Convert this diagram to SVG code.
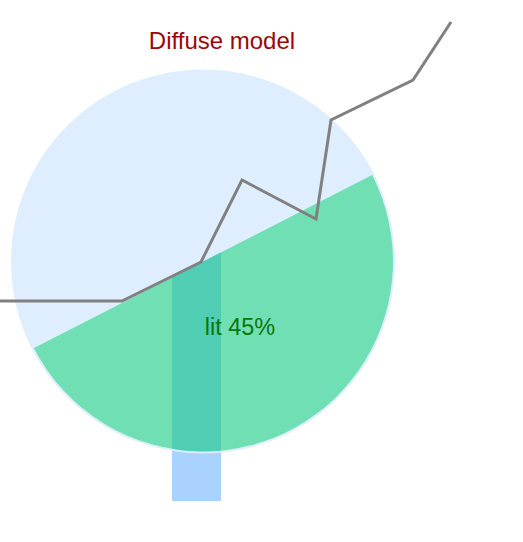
<svg xmlns="http://www.w3.org/2000/svg" width="523" height="542" viewBox="0 0 523 542">
  <style>
    .lbl { font-family: "Liberation Sans", Arial, sans-serif; text-anchor: middle; }
  </style>
  <rect width="523" height="542" fill="#ffffff"/>
  <g id="beam">
    <rect x="172" y="248" width="49" height="253" fill="#aad2ff"/>
  </g>
  <g id="sphere">
    <circle cx="203" cy="261.5" r="191" fill="none" stroke="#dfeefe" stroke-width="2"/>
    <path d="M32.4,348.6 A191.5,191.5 0 0 1 203,70 A191.5,191.5 0 0 1 373.6,174.4 Z" fill="#dfeefe"/>
    <path d="M372.2,175.1 A190,190 0 0 1 203,451.5 A190,190 0 0 1 33.8,347.9 Z" fill="rgb(24,203,134)" fill-opacity="0.62"/>
  </g>
  <g id="connectors">
    <polyline points="0,301 122,301 201,262 242,180 316,219 331,120 413,80 451,22" fill="none" stroke="#808080" stroke-width="3"/>
  </g>
  <g id="title">
    <text class="lbl" x="222" y="49" font-size="24" fill="#9c0606">Diffuse model</text>
  </g>
  <g id="lit-label">
    <text class="lbl" x="240" y="335" font-size="23.5" fill="#0b760b">lit 45%</text>
  </g>
</svg>
